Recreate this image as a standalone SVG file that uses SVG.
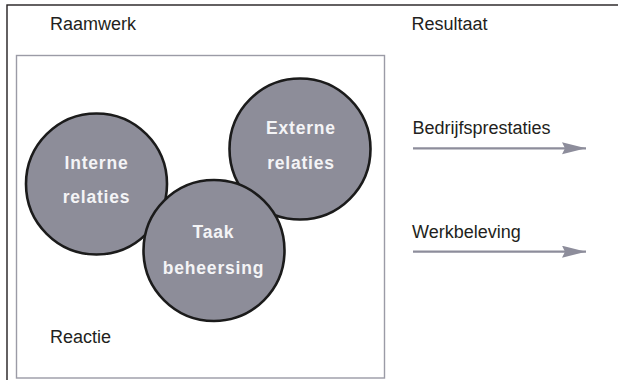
<svg xmlns="http://www.w3.org/2000/svg" width="618" height="380" viewBox="0 0 618 380">
  <style>
    .label { font-family: "Liberation Sans", Arial, sans-serif; font-size: 18px; fill: #231f20; }
    .node circle { fill: #8d8d99; stroke: #1b1b1b; stroke-width: 2.6; }
    .node text { font-family: "Liberation Sans", Arial, sans-serif; font-size: 17.5px; font-weight: bold; fill: #f4f4f6; text-anchor: middle; letter-spacing: 0.8px; }
    .arrow { stroke: #8d8d9b; stroke-width: 2.2; fill: none; marker-end: url(#head); }
  </style>
  <defs>
    <marker id="head" markerWidth="26" markerHeight="14" refX="24" refY="6" orient="auto" markerUnits="userSpaceOnUse">
      <path d="M0,0 L24,6 L0,12 L3,6 Z" fill="#8d8d9b"/>
    </marker>
  </defs>

  <rect width="618" height="380" fill="#ffffff"/>

  <!-- outer frame -->
  <rect x="7" y="5" width="620" height="390" fill="none" stroke="#231f20" stroke-width="1.4"/>

  <!-- framework box -->
  <rect x="16.5" y="55.5" width="368" height="322.5" fill="none" stroke="#9b9ba6" stroke-width="1.4"/>

  <!-- headings -->
  <text class="label" x="50" y="30">Raamwerk</text>
  <text class="label" x="411.5" y="30">Resultaat</text>
  <text class="label" x="412.5" y="133.5">Bedrijfsprestaties</text>
  <text class="label" x="412" y="238">Werkbeleving</text>
  <text class="label" x="50" y="342.5">Reactie</text>

  <g id="interne-relaties" class="node">
    <circle cx="96.5" cy="184" r="70.5"/>
    <text x="96.5" y="169">Interne</text>
    <text x="96.5" y="203">relaties</text>
  </g>

  <g id="externe-relaties" class="node">
    <circle cx="300" cy="149" r="70.5"/>
    <text x="301" y="133.5">Externe</text>
    <text x="301" y="168.5">relaties</text>
  </g>

  <g id="taak-beheersing" class="node">
    <circle cx="214" cy="250.5" r="70.5"/>
    <text x="213.5" y="238">Taak</text>
    <text x="213.5" y="273.5">beheersing</text>
  </g>

  <g id="connectors">
    <line class="arrow" x1="413" y1="148.3" x2="586" y2="148.3"/>
    <line class="arrow" x1="413" y1="251.7" x2="586" y2="251.7"/>
  </g>
</svg>
